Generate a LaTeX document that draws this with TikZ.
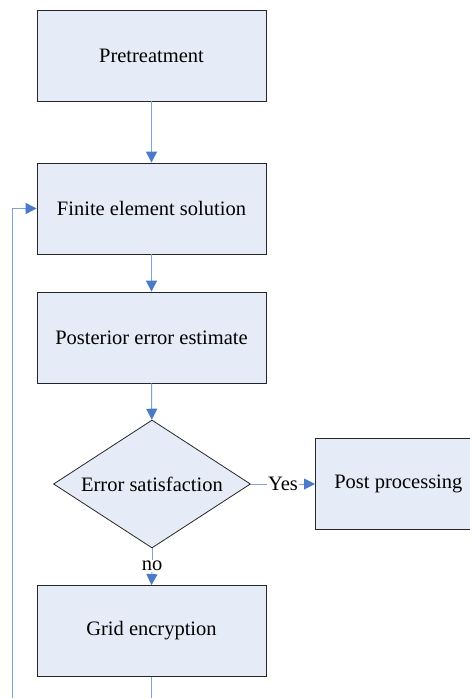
\documentclass[tikz,border=0pt]{standalone}
\usepackage{fontspec}
\setmainfont{Liberation Serif}
\usetikzlibrary{arrows.meta,shapes.geometric}
\definecolor{boxfill}{HTML}{E6ECF7}
\definecolor{arrblue}{HTML}{4A7BC8}
\definecolor{lineblue}{HTML}{7FA2D9}
\begin{document}
\begin{tikzpicture}[x=1pt,y=-1pt,
  procbox/.style={draw=black!85,fill=boxfill,line width=0.8pt,minimum width=229pt,minimum height=91pt,inner sep=0pt,font=\fontsize{20.5}{24}\selectfont},
  decbox/.style={draw=black!85,fill=boxfill,line width=0.8pt,diamond,aspect=1.54,minimum width=197pt,minimum height=128pt,inner sep=0pt,font=\fontsize{20.5}{24}\selectfont},
  flow/.style={draw=lineblue,line width=1pt,-{Triangle[width=11pt,length=11pt,color=arrblue]}},
  lbl/.style={font=\fontsize{20.5}{24}\selectfont,inner sep=1pt}]
\useasboundingbox (0,0) rectangle (469,698);
\node[procbox] (pre) at (151.5,55.5) {Pretreatment};
\node[procbox] (fes) at (151.5,208.5) {Finite element solution};
\node[procbox] (pee) at (151.5,337.5) {Posterior error estimate};
\node[decbox] (es) at (152,484) {Error satisfaction};
\node[procbox,minimum width=170pt,anchor=west] (pp) at (315,484) {\hspace*{-4pt}Post processing};
\node[procbox] (ge) at (151.5,631) {Grid encryption};
\node[lbl] (yes) at (283,484) {Yes};
\node[lbl] (no) at (152,566) {no};
\coordinate (lp) at (12,730);
\draw[flow] (pre) -- (fes);
\draw[flow] (fes) -- (pee);
\draw[flow] (pee) -- (es);
\draw[draw=lineblue,line width=1pt] (es.east) -- (yes.west);
\draw[flow] (yes.east) -- (pp.west);
\draw[draw=lineblue,line width=1pt] (es.south) -- (no.north);
\draw[flow] (no.south) -- (ge.north);
\draw[flow] (ge.south) |- (lp) |- (fes.west);
\end{tikzpicture}
\end{document}
